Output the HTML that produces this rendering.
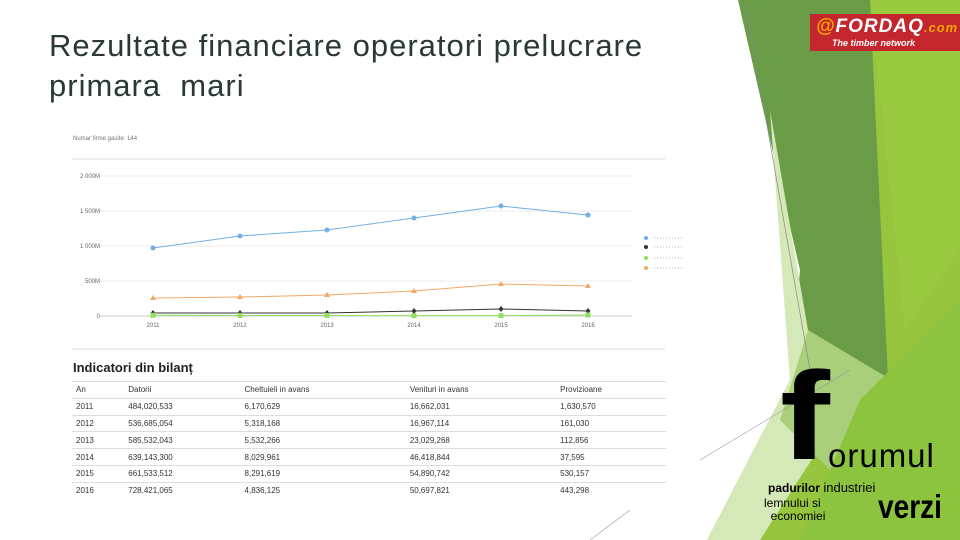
<!DOCTYPE html>
<html><head><meta charset="utf-8"><style>
body{margin:0;width:960px;height:540px;overflow:hidden;background:#fff;font-family:"Liberation Sans",sans-serif;position:relative}
#title{position:absolute;left:49px;top:26px;font-size:31px;letter-spacing:1px;line-height:40px;color:#2a3838;margin:0;font-weight:normal}
svg{position:absolute;left:0;top:0}
table{position:absolute;left:72px;top:381px;border-collapse:collapse;font-size:8px;color:#333;width:594px}
td{height:15.8px;border-top:1px solid #ddd;padding:0 0 0 4px}
</style></head><body>
<svg width="960" height="540">
<polygon points="735,0 960,0 960,540 705,540" fill="#97c63e"/>
<polygon points="738,0 870,0 888,378 808,330" fill="#6a9c48"/>
<polygon points="870,0 960,0 960,250 905,330" fill="#98c93f"/>
<polygon points="700,0 738,0 800,270 790,380 707,540 700,540" fill="#fff"/>
<polygon points="770,110 808,330 850,400 760,540 707,540 790,380" fill="#d5e8b8"/>
<polygon points="808,330 888,378 830,470 780,420" fill="#a9cf7a"/>
<polygon points="860,400 960,300 960,540 800,540" fill="#8cc43f"/>
<line x1="745" y1="0" x2="810" y2="370" stroke="#888" stroke-width=".7"/>
<line x1="700" y1="460" x2="850" y2="370" stroke="#999" stroke-width=".6"/>
<line x1="590" y1="540" x2="630" y2="510" stroke="#999" stroke-width=".6"/>
</svg>
<h1 id="title">Rezultate financiare operatori prelucrare<br>primara &nbsp;mari</h1>
<div style="position:absolute;left:810px;top:14px;width:150px;height:37px;background:#c4262e;color:#fff">
<div style="font-size:19px;font-weight:bold;font-style:italic;position:absolute;left:6px;top:2px;letter-spacing:1px"><span style="color:#f7a800">@</span>FORDAQ<span style="font-size:13px;color:#f7a800">.com</span></div>
<div style="font-size:9px;font-style:italic;font-weight:bold;position:absolute;left:22px;top:24px">The timber network</div></div>
<div style="position:absolute;left:780px;top:365px;width:170px;height:170px">
<div style="position:absolute;left:0px;top:-8px;font-size:125px;font-weight:bold;line-height:120px;transform:scaleX(1.2);transform-origin:left">f</div>
<div style="position:absolute;left:48px;top:72px;font-size:33px;letter-spacing:1px;line-height:38px">orumul</div>
<div style="position:absolute;left:-12px;top:115px;font-size:12px;font-weight:bold">padurilor <span style="font-weight:normal;font-size:13px">industriei</span></div>
<div style="position:absolute;left:-16px;top:132px;font-size:12px;line-height:13px">lemnului si<br>&nbsp;&nbsp;economiei</div>
<div style="position:absolute;left:98px;top:125px;font-size:33px;font-weight:bold;line-height:34px;transform:scaleX(0.85);transform-origin:left">verzi</div></div>
<svg id="chart" width="960" height="540"></svg>
<div style="position:absolute;left:73px;top:360px;font-size:13px;font-weight:bold;color:#222">Indicatori din bilanț</div>
<table>
<tr><td>An</td><td>Datorii</td><td>Cheltuieli in avans</td><td>Venituri in avans</td><td>Provizioane</td></tr>
<tr><td>2011</td><td>484,020,533</td><td>6,170,629</td><td>16,662,031</td><td>1,630,570</td></tr>
<tr><td>2012</td><td>536,685,054</td><td>5,318,168</td><td>16,967,114</td><td>161,030</td></tr>
<tr><td>2013</td><td>585,532,043</td><td>5,532,266</td><td>23,029,268</td><td>112,856</td></tr>
<tr><td>2014</td><td>639,143,300</td><td>8,029,961</td><td>46,418,844</td><td>37,595</td></tr>
<tr><td>2015</td><td>661,533,512</td><td>8,291,619</td><td>54,890,742</td><td>530,157</td></tr>
<tr><td>2016</td><td>728,421,065</td><td>4,836,125</td><td>50,697,821</td><td>443,298</td></tr>
</table>
<script>
const years=["2011","2012","2013","2014","2015","2016"];
const yTicks=[0,500,1000,1500,2000];
const yTickLabels=["0","500M","1 000M","1 500M","2 000M"];
const seriesBlue=[971,1143,1229,1400,1571,1443];
const seriesDark=[43,43,43,71,100,71];
const seriesGreen=[10,8,8,5,5,15];
const seriesOrange=[257,271,300,357,457,429];
const NS="http://www.w3.org/2000/svg",svg=document.getElementById('chart');
const X=i=>153+i*87, Y=v=>316-v*0.07;
function mk(t,a,p){const e=document.createElementNS(NS,t);for(const k in a)e.setAttribute(k,a[k]);(p||svg).appendChild(e);return e;}
let t=mk('text',{x:73,y:140,'font-size':6,fill:'#777'});t.textContent='Numar firme gasite: 144';


mk('line',{x1:72,y1:159,x2:665,y2:159,stroke:'#ddd'});
mk('line',{x1:72,y1:349,x2:665,y2:349,stroke:'#ddd'});
yTicks.forEach((v,i)=>{
 const g=mk('line',{x1:100,x2:632,y1:Y(v),y2:Y(v),stroke:i?'#eee':'#ccc'});
 
 
 const l=mk('text',{x:100,y:Y(v)+2,'font-size':6,fill:'#666','text-anchor':'end'});l.textContent=yTickLabels[i];
 
 
});
years.forEach((y,i)=>{
 const l=mk('text',{x:X(i),y:327,'font-size':6,fill:'#666','text-anchor':'middle'});l.textContent=y;
 
 
});
function series(d,col,shape,name){
 const p=mk('polyline',{points:d.map((v,i)=>X(i)+','+Y(v)).join(' '),fill:'none',stroke:col,'stroke-width':1});
 
 
 d.forEach((v,i)=>{
  let m;const x=X(i),y=Y(v);
  if(shape=='tri')m=mk('polygon',{points:`${x},${y-3} ${x-3},${y+2} ${x+3},${y+2}`,fill:col});
  else if(shape=='sq')m=mk('rect',{x:x-2.5,y:y-2.5,width:5,height:5,fill:col});
  else if(shape=='dia')m=mk('polygon',{points:`${x},${y-3} ${x+2.5},${y} ${x},${y+3} ${x-2.5},${y}`,fill:col});
  else m=mk('circle',{cx:x,cy:y,r:2.5,fill:col});
  
  
 });
}
series(seriesOrange,'#f0a868','tri','orange-series');
series(seriesDark,'#333','dia','dark-series');
series(seriesGreen,'#8fe060','sq','green-series');
series(seriesBlue,'#70b0e8','circ','blue-series');
[['#70b0e8',238],['#333',247],['#8fe060',258],['#f0a868',268]].forEach(([c,y])=>{
 const g=mk('circle',{cx:646,cy:y,r:2,fill:c});
 
 
 mk('line',{x1:654,x2:684,y1:y,y2:y,stroke:'#bbb','stroke-dasharray':'1 2'});
});
</script>
</body></html>
